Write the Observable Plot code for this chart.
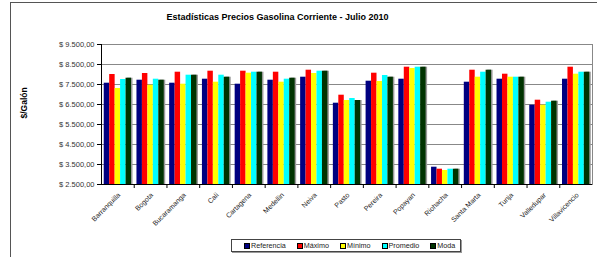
<!DOCTYPE html>
<html>
<head>
<meta charset="utf-8">
<script src="https://cdn.jsdelivr.net/npm/d3@7"></script>
<script src="https://cdn.jsdelivr.net/npm/@observablehq/plot@0.6"></script>
<style>
  html, body { margin: 0; padding: 0; background: #fff; }
  #wrap { position: relative; width: 597px; height: 257px; overflow: hidden; font-family: Arial, "Liberation Sans", sans-serif; }
  #border { position: absolute; left: 10px; top: 2px; right: -5px; bottom: -5px; border-top: 1px solid #555; border-left: 1px solid #555; }
  #title { position: absolute; left: 0; width: 555px; top: 12px; text-align: center; font-weight: bold; font-size: 9px; color: #000; }
  #chart { position: absolute; left: 0; top: 0; }
  #legend { position: absolute; left: 231px; top: 239px; width: 230px; height: 13px; border: 1px solid #444; box-shadow: 1px 1px 0 #999; background: #fff;
            display: flex; align-items: center; font-size: 7.2px; color: #222; padding-left: 12px; box-sizing: border-box; }
  .item { display: flex; align-items: center; margin-right: 11px; }
  .sw { width: 4px; height: 4px; border: 1px solid #000; margin-right: 1px; }
</style>
</head>
<body>
<div id="wrap">
  <div id="border"></div>
  <div id="chart"></div>
  <div id="title"></div>
  <div id="legend"></div>
</div>
<script>
const titleText = "Estadísticas Precios Gasolina Corriente - Julio 2010";
const yLabel = "$/Galón";
const cities = ["Barranquilla","Bogota","Bucaramanga","Cali","Cartagena","Medellin","Neiva","Pasto","Pereira","Popayan","Riohacha","Santa Marta","Tunja","Valledupar","Villavicencio"];
const series = ["Referencia","Máximo","Mínimo","Promedio","Moda"];
const colors = ["#000080","#ff0000","#ffff00","#00ffff","#003300"];
const referencia = [7565,7715,7565,7765,7515,7715,7865,6565,7665,7765,3365,7615,7765,6465,7765];
const maximo     = [8000,8050,8115,8165,8165,8115,8215,6965,8065,8365,3265,8215,8015,6715,8365];
const minimo     = [7300,7465,7515,7615,8065,7615,8050,6700,7650,8300,3200,7865,7865,6465,8015];
const promedio   = [7750,7765,7965,7965,8115,7765,8165,6800,7950,8365,3265,8115,7865,6615,8115];
const moda       = [7815,7715,7965,7865,8115,7815,8165,6700,7865,8365,3265,8215,7865,6665,8115];
const yTicks = [2500,3500,4500,5500,6500,7500,8500,9500];
const yTickLabels = ["$ 2.500,00","$ 3.500,00","$ 4.500,00","$ 5.500,00","$ 6.500,00","$ 7.500,00","$ 8.500,00","$ 9.500,00"];
const yMin = 2500, yMax = 9500;

const valuesBySeries = [referencia, maximo, minimo, promedio, moda];
const rows = [];
cities.forEach((c, i) => series.forEach((s, j) => rows.push({city: c, series: s, key: c + "|" + s, value: valuesBySeries[j][i]})));
const domain = [];
const gaps = [];
cities.forEach((c, i) => {
  series.forEach(s => domain.push(c + "|" + s));
  if (i < cities.length - 1) { domain.push(c + "|gap"); gaps.push(c + "|gap"); }
});

const chart = Plot.plot({
  width: 597,
  height: 257,
  marginTop: 44,
  marginLeft: 101,
  marginRight: 5,
  marginBottom: 73,
  style: {fontFamily: "Arial, 'Liberation Sans', sans-serif", background: "transparent"},
  x: {type: "band", domain, paddingInner: 0, paddingOuter: 0.5, axis: null},
  y: {domain: [yMin, yMax], axis: null},
  color: {domain: series, range: colors},
  marks: [
    Plot.frame({stroke: "#888"}),
    Plot.ruleY(yTicks, {stroke: "#888", strokeWidth: 1}),
    Plot.barY(rows.filter(d => d.series === "Moda"), {x: "key", y1: yMin, y2: "value", fill: "#9a9a9a", dx: 1.5}),
    Plot.barY(rows, {x: "key", y1: yMin, y2: "value", fill: "series"}),
    Plot.ruleX(gaps, {x: d => d, y1: yMin, y2: yMin, insetBottom: -4, stroke: "#000"}),
    Plot.ruleY([yMin], {stroke: "#000", strokeWidth: 1.2}),
    Plot.axisY({ticks: yTicks, tickFormat: (d, i) => yTickLabels[i], tickSize: 4, tickPadding: 3, fontSize: 7.5, fill: "#333", label: null}),
    Plot.frame({anchor: "left", stroke: "#000"}),
    Plot.text(cities, {x: d => d + "|Mínimo", frameAnchor: "bottom", text: d => d, rotate: -45, textAnchor: "end", dx: 3, dy: 11, fontSize: 7, fill: "#222"}),
    Plot.text([yLabel], {frameAnchor: "left", dx: -77, dy: 4, rotate: -90, fontWeight: "bold", fontSize: 8.5, fill: "#000"})
  ]
});
document.getElementById("chart").appendChild(chart);
document.getElementById("title").textContent = titleText;
const lg = document.getElementById("legend");
series.forEach((s, j) => {
  const it = document.createElement("div"); it.className = "item";
  const sw = document.createElement("div"); sw.className = "sw"; sw.style.background = colors[j];
  const tx = document.createElement("span"); tx.textContent = s;
  it.appendChild(sw); it.appendChild(tx); lg.appendChild(it);
});
</script>
</body>
</html>
